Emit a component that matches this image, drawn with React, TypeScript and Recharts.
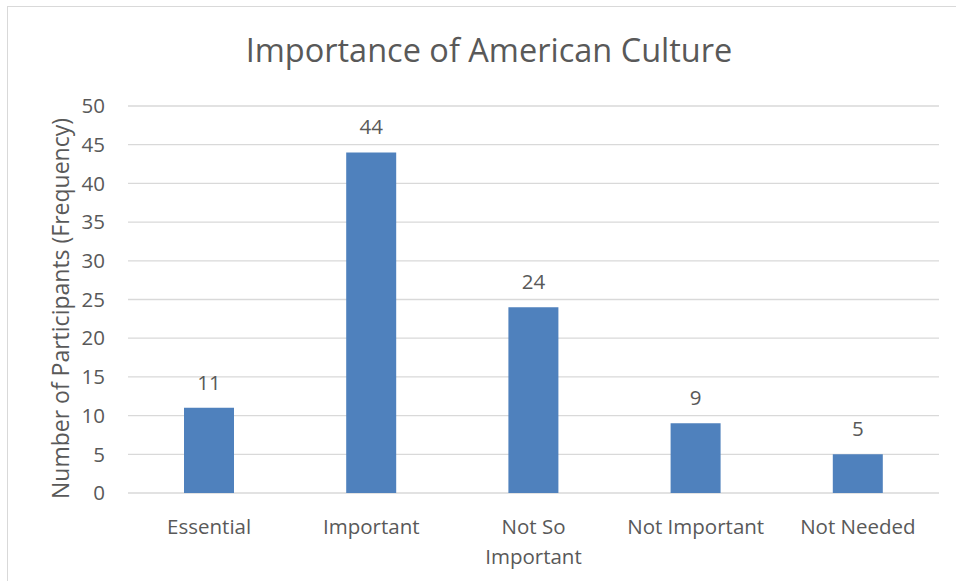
import React from "react";
import {
  BarChart,
  Bar,
  XAxis,
  YAxis,
  CartesianGrid,
  LabelList,
} from "recharts";

const categories = [
  "Essential",
  "Important",
  "Not So Important",
  "Not Important",
  "Not Needed",
];
const frequencies = [11, 44, 24, 9, 5];
// how Excel wrapped the category names under the axis
const tickLines: Record<string, string[]> = {
  "Not So Important": ["Not So", "Important"],
};
const yTicks = [0, 5, 10, 15, 20, 25, 30, 35, 40, 45, 50];

const FONT = "'Open Sans', sans-serif";
const TEXT = "#595959";

const data = categories.map((name, i) => ({ name, value: frequencies[i] }));

const CategoryTick = (props: any) => {
  const { x, y, payload } = props;
  const lines = tickLines[payload.value] || [payload.value];
  return (
    <text
      x={x}
      y={y}
      textAnchor="middle"
      fill={TEXT}
      fontSize={20.5}
      fontFamily={FONT}
    >
      {lines.map((l: string, i: number) => (
        <tspan key={i} x={x} dy={i === 0 ? 39 : 30}>
          {l}
        </tspan>
      ))}
    </text>
  );
};

const YLabel = (props: any) => {
  const { viewBox } = props;
  const cx = viewBox.x + 60;
  const cy = viewBox.y + viewBox.height / 2 + 9;
  return (
    <text
      x={cx}
      y={cy}
      transform={`rotate(-90, ${cx}, ${cy})`}
      textAnchor="middle"
      dominantBaseline="central"
      fill={TEXT}
      fontSize={23}
      fontFamily={FONT}
    >
      Number of Participants (Frequency)
    </text>
  );
};

export default function App() {
  return (
    <div
      style={{
        position: "absolute",
        left: 0,
        top: 0,
        width: 956,
        height: 581,
        background: "#fff",
        overflow: "hidden",
      }}
    >
      <div
        style={{
          position: "absolute",
          left: 7,
          top: 6,
          width: 1000,
          height: 1000,
          borderLeft: "1px solid #D9D9D9",
          borderTop: "1px solid #D9D9D9",
        }}
      />
      <div
        style={{
          position: "absolute",
          left: 0,
          width: 978,
          top: 29,
          textAlign: "center",
          fontFamily: FONT,
          fontSize: 32.5,
          lineHeight: "42px",
          color: TEXT,
        }}
      >
        Importance of American Culture
      </div>
      <BarChart
        width={956}
        height={581}
        data={data}
        margin={{ top: 106, right: 17, bottom: 0, left: 0 }}
        style={{ position: "absolute", left: 0, top: 0 }}
      >
        <CartesianGrid vertical={false} stroke="#D9D9D9" strokeWidth={1.3} />
        <XAxis
          dataKey="name"
          height={88}
          axisLine={false}
          tickLine={false}
          tickSize={0}
          tick={<CategoryTick />}
          interval={0}
        />
        <YAxis
          width={128}
          domain={[0, 50]}
          ticks={yTicks}
          axisLine={false}
          tickLine={false}
          tickSize={0}
          tickMargin={23}
          tick={{ fill: TEXT, fontSize: 20.5, fontFamily: FONT }}
          label={<YLabel />}
        />
        <Bar
          dataKey="value"
          fill="#4F81BD"
          barSize={50}
          isAnimationActive={false}
        >
          <LabelList
            dataKey="value"
            position="top"
            offset={18}
            fill={TEXT}
            fontSize={20.5}
            fontFamily={FONT}
          />
        </Bar>
      </BarChart>
    </div>
  );
}
